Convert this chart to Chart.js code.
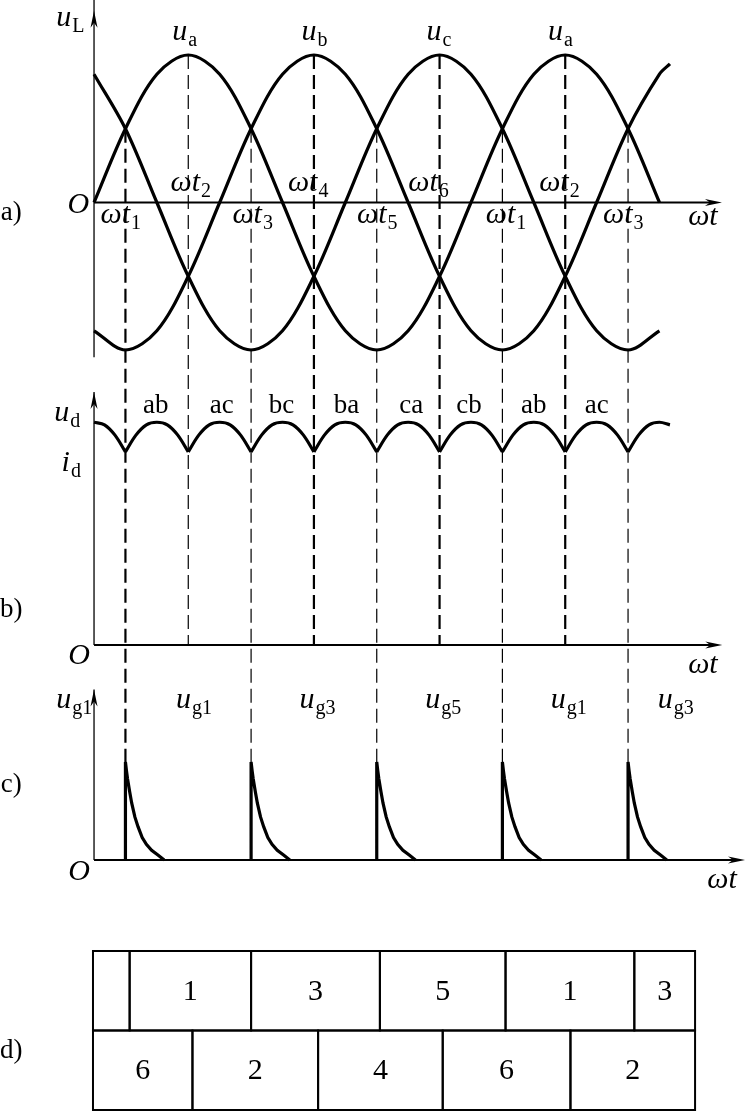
<!DOCTYPE html>
<html>
<head>
<meta charset="utf-8">
<script src="https://cdn.jsdelivr.net/npm/chart.js@4.4.1/dist/chart.umd.min.js"></script>
<style>
  html, body { margin: 0; padding: 0; background: #fff; }
  canvas { display: block; }
</style>
</head>
<body>
<canvas id="diagram" width="747" height="1117"></canvas>
<script>
// a) phase voltages, read every 30 degrees (wt = 0 at the origin O)
const phaseAngles = [0, 30, 60, 90, 120, 150, 180, 210, 240, 270, 300, 330, 360, 390, 420, 450, 480, 510, 540, 550];
const uaValues = [0, 0.5, 0.87, 1, 0.87, 0.5, 0, -0.5, -0.87, -1, -0.87, -0.5, 0, 0.5, 0.87, 1, 0.87, 0.5, 0, null];
const ubValues = [-0.87, -1, -0.87, -0.5, 0, 0.5, 0.87, 1, 0.87, 0.5, 0, -0.5, -0.87, -1, -0.87, -0.5, 0, 0.5, 0.87, 0.94];
const ucValues = [0.87, 0.5, 0, -0.5, -0.87, -1, -0.87, -0.5, 0, 0.5, 0.87, 1, 0.87, 0.5, 0, -0.5, -0.87, -1, -0.87, null];
const phaseNames = ['a', 'b', 'c', 'a'];
const phaseNameAngles = [86, 210, 329, 445];

// commutation instants
const crossAngles = [30, 150, 270, 390, 510];   // wt1, wt3, wt5, wt1, wt3
const crossNames = ['1', '3', '5', '1', '3'];
const crossNameAngles = [25, 151, 270, 393, 505];
const peakAngles = [90, 210, 330, 450];         // wt2, wt4, wt6, wt2
const peakNames = ['2', '4', '6', '2'];
const peakNameAngles = [92, 204, 319, 444];

// b) rectified voltage ud: one 60 degree arc, repeated
const udArcOffsets = [0, 10, 20, 30, 40, 50, 60];
const udArcValues = [1.5, 1.63, 1.71, 1.73, 1.71, 1.63, 1.5];
const udArcStarts = [-30, 30, 90, 150, 210, 270, 330, 390, 450, 510];
const udSpan = [0, 550];
const pairNames = ['ab', 'ac', 'bc', 'ba', 'ca', 'cb', 'ab', 'ac'];
const pairNameAngles = [59, 122, 179, 241, 303, 358, 420, 480];

// c) gate pulses
const pulseStarts = [30, 150, 270, 390, 510];
const pulseOffsets = [0, 0, 1, 2, 4, 6, 9, 12, 16, 20, 25, 31, 37];
const pulseValues = [0, 1, 0.91, 0.83, 0.70, 0.58, 0.44, 0.34, 0.23, 0.16, 0.10, 0.05, 0];
const gateNames = ['g1', 'g3', 'g5', 'g1', 'g3'];
const gateNameAngles = [95, 213, 333, 453, 555];

// d) conducting thyristors
const upperEdges = [-1, 34, 150, 273, 393, 516, 574];
const upperLabels = ['', '1', '3', '5', '1', '3'];
const lowerEdges = [-1, 94, 214, 333, 455, 574];
const lowerLabels = ['6', '2', '4', '6', '2'];

const SERIF = '"Liberation Serif", "DejaVu Serif", serif';
const ITALIC = 'italic 30px ' + SERIF;
const SUB = '20px ' + SERIF;
const PLAIN = '27px ' + SERIF;
const heavyGuides = [30, 210, 330, 450];

function toPoints(xs, ys) {
    return xs.map((x, i) => ({ x: x, y: ys[i] }));
}

let udPoints = [];
udArcStarts.forEach((start, i) => {
    if (i > 0) udPoints.push({ x: start, y: null });
    udArcOffsets.forEach((off, j) => {
        const a = start + off;
        if (a >= udSpan[0] && a <= udSpan[1]) udPoints.push({ x: a, y: udArcValues[j] });
    });
});

let pulsePoints = [];
pulseStarts.forEach((start, i) => {
    if (i > 0) pulsePoints.push({ x: start, y: null });
    pulseOffsets.forEach((off, j) => pulsePoints.push({ x: start + off, y: pulseValues[j] }));
});

// main symbol in italic with an upright subscript
function symbol(ctx, x, y, main, sub, align) {
    ctx.font = ITALIC;
    const w1 = ctx.measureText(main).width;
    ctx.font = SUB;
    const w2 = sub ? ctx.measureText(sub).width : 0;
    const left = align === 'left' ? x : x - (w1 + w2) / 2;
    ctx.font = ITALIC;
    ctx.fillText(main, left, y);
    if (sub) {
        ctx.font = SUB;
        ctx.fillText(sub, left + w1 + 1, y + 6);
    }
}

function arrowHead(ctx, x, y, dir) {
    ctx.beginPath();
    if (dir === 'right') {
        ctx.moveTo(x, y);
        ctx.lineTo(x - 17, y - 3.5);
        ctx.lineTo(x - 12, y);
        ctx.lineTo(x - 17, y + 3.5);
    } else {
        ctx.moveTo(x, y);
        ctx.lineTo(x - 3.5, y + 17);
        ctx.lineTo(x, y + 12);
        ctx.lineTo(x + 3.5, y + 17);
    }
    ctx.closePath();
    ctx.fill();
}

function seg(ctx, x1, y1, x2, y2, w) {
    ctx.lineWidth = w;
    ctx.beginPath();
    ctx.moveTo(x1, y1);
    ctx.lineTo(x2, y2);
    ctx.stroke();
}

const diagramPlugin = {
    id: 'diagram',
    beforeDatasetsDraw(chart) {
        const { ctx, scales } = chart;
        const X = scales.x, ya = scales.ya, yb = scales.yb, yc = scales.yc;
        ctx.save();
        ctx.strokeStyle = '#000';
        ctx.fillStyle = '#000';

        // dashed guides
        ctx.setLineDash([14, 6]);
        crossAngles.forEach(a => {
            const px = X.getPixelForValue(a);
            seg(ctx, px, ya.getPixelForValue(0.5), px, yc.getPixelForValue(1), heavyGuides.includes(a) ? 2.2 : 1.2);
        });
        peakAngles.forEach(a => {
            const px = X.getPixelForValue(a);
            seg(ctx, px, ya.getPixelForValue(1), px, yb.getPixelForValue(0), heavyGuides.includes(a) ? 2.2 : 1.2);
        });
        ctx.setLineDash([]);

        // axes
        const x0 = X.getPixelForValue(0);
        const panels = [
            { s: ya, end: 599.7, low: -1.05, top: 1.373, tip: 1.30 },
            { s: yb, end: 600, low: 0, top: 1.965, tip: 1.965 },
            { s: yc, end: 621.7, low: 0, top: 1.74, tip: 1.74 }
        ];
        panels.forEach(p => {
            const y0 = p.s.getPixelForValue(0);
            const xe = X.getPixelForValue(p.end);
            seg(ctx, x0, y0, xe - 10, y0, 2.2);
            arrowHead(ctx, xe, y0, 'right');
            seg(ctx, x0, p.s.getPixelForValue(p.low), x0, p.s.getPixelForValue(p.top), 1.3);
            arrowHead(ctx, x0, p.s.getPixelForValue(p.tip), 'up');
        });
        ctx.restore();
    },
    afterDatasetsDraw(chart) {
        const { ctx, scales } = chart;
        const X = scales.x, ya = scales.ya, yb = scales.yb, yc = scales.yc, yd = scales.yd;
        const px = v => X.getPixelForValue(v);
        ctx.save();
        ctx.fillStyle = '#000';
        ctx.strokeStyle = '#000';
        ctx.textBaseline = 'alphabetic';

        // panel a
        symbol(ctx, px(-36), ya.getPixelForValue(1.20), 'u', 'L', 'left');
        phaseNames.forEach((n, i) => symbol(ctx, px(phaseNameAngles[i]), ya.getPixelForValue(1.10), 'u', n));
        peakNames.forEach((n, i) => symbol(ctx, px(peakNameAngles[i]), ya.getPixelForValue(0.08), 'ωt', n));
        crossNames.forEach((n, i) => symbol(ctx, px(crossNameAngles[i]), ya.getPixelForValue(-0.139), 'ωt', n));
        symbol(ctx, px(581.5), ya.getPixelForValue(-0.153), 'ωt', '');
        symbol(ctx, px(-15), ya.getPixelForValue(-0.07), 'O', '');

        // panel b
        symbol(ctx, px(-38), yb.getPixelForValue(1.74), 'u', 'd', 'left');
        symbol(ctx, px(-31), yb.getPixelForValue(1.35), 'i', 'd', 'left');
        symbol(ctx, px(-14.3), yb.getPixelForValue(-0.148), 'O', '');
        symbol(ctx, px(581.5), yb.getPixelForValue(-0.217), 'ωt', '');

        // panel c
        symbol(ctx, px(-36), yc.getPixelForValue(1.55), 'u', 'g1', 'left');
        gateNames.forEach((n, i) => symbol(ctx, px(gateNameAngles[i]), yc.getPixelForValue(1.55), 'u', n));
        symbol(ctx, px(-14.3), yc.getPixelForValue(-0.204), 'O', '');
        symbol(ctx, px(599.7), yc.getPixelForValue(-0.286), 'ωt', '');

        ctx.font = PLAIN;
        ctx.textAlign = 'center';
        pairNames.forEach((n, i) => ctx.fillText(n, px(pairNameAngles[i]), yb.getPixelForValue(1.80)));
        ctx.fillText('a)', px(-79), ya.getPixelForValue(-0.12));
        ctx.fillText('b)', px(-79), yb.getPixelForValue(0.217));
        ctx.fillText('c)', px(-79), yc.getPixelForValue(0.69));
        ctx.fillText('d)', px(-79), yd.getPixelForValue(0.654));

        // panel d table
        ctx.lineWidth = 2;
        const rows = [
            { edges: upperEdges, labels: upperLabels, top: 2, bottom: 1 },
            { edges: lowerEdges, labels: lowerLabels, top: 1, bottom: 0 }
        ];
        ctx.font = '30px ' + SERIF;
        ctx.textBaseline = 'middle';
        rows.forEach(r => {
            const t = yd.getPixelForValue(r.top), b = yd.getPixelForValue(r.bottom);
            for (let i = 0; i < r.labels.length; i++) {
                const l = px(r.edges[i]), rr = px(r.edges[i + 1]);
                ctx.strokeRect(l, t, rr - l, b - t);
                if (r.labels[i]) ctx.fillText(r.labels[i], (l + rr) / 2, (t + b) / 2 + 1);
            }
        });
        ctx.restore();
    }
};

const lineStyle = { borderColor: '#000', borderWidth: 3.2, pointRadius: 0, fill: false };

new Chart(document.getElementById('diagram'), {
    type: 'line',
    data: {
        datasets: [
            Object.assign({ label: 'ua', data: toPoints(phaseAngles, uaValues), yAxisID: 'ya', tension: 0.33 }, lineStyle),
            Object.assign({ label: 'ub', data: toPoints(phaseAngles, ubValues), yAxisID: 'ya', tension: 0.33 }, lineStyle),
            Object.assign({ label: 'uc', data: toPoints(phaseAngles, ucValues), yAxisID: 'ya', tension: 0.33 }, lineStyle),
            Object.assign({ label: 'ud', data: udPoints, yAxisID: 'yb', tension: 0.33 }, lineStyle),
            Object.assign({ label: 'ug', data: pulsePoints, yAxisID: 'yc', tension: 0 }, lineStyle)
        ]
    },
    options: {
        responsive: false,
        animation: false,
        events: [],
        layout: { padding: 0 },
        plugins: { legend: { display: false }, tooltip: { enabled: false } },
        scales: {
            x: { type: 'linear', min: -89.8, max: 623.6, display: false },
            ya: { type: 'linear', position: 'right', stack: 'panels', stackWeight: 375, min: -1.1695, max: 1.3729, display: false },
            yb: { type: 'linear', position: 'right', stack: 'panels', stackWeight: 295, min: -0.1942, max: 2.0971, display: false },
            yc: { type: 'linear', position: 'right', stack: 'panels', stackWeight: 250, min: -0.6122, max: 1.9388, display: false },
            yd: { type: 'linear', position: 'right', stack: 'panels', stackWeight: 197, min: -0.0881, max: 2.3899, display: false }
        }
    },
    plugins: [diagramPlugin]
});
</script>
</body>
</html>
